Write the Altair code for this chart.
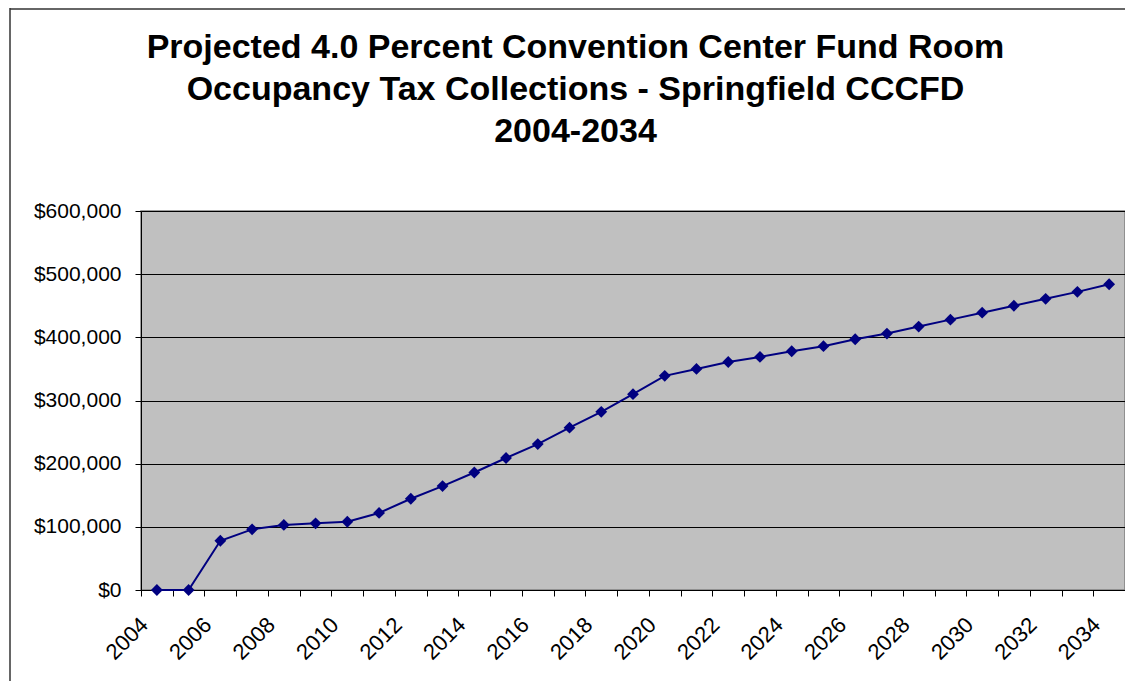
import altair as alt
import pandas as pd

# ---- data ----
years = list(range(2004, 2035))
collections = [0, 0, 78000, 96000, 103000, 105500, 108000, 122000, 144500, 164500,
               186000, 209000, 231000, 257000, 282000, 310000, 339000, 350000, 361000, 369000,
               378000, 386000, 397000, 406000, 417000, 428000, 439000, 450000, 461000, 472000,
               484000]
title_lines = ["Projected 4.0 Percent Convention Center Fund Room",
               "Occupancy Tax Collections - Springfield CCCFD",
               "2004-2034"]
y_ticks = [0, 100000, 200000, 300000, 400000, 500000, 600000]
# category boundaries (Excel-style ticks between categories)
x_boundaries = [y - 0.5 for y in years] + [years[-1] + 0.5]

W, H = 984, 379
PAD_L, PAD_T, PAD_R, PAD_B = 133, 203, 0, 91
FONT = "Liberation Sans"

df = pd.DataFrame({"year": years, "value": collections})

xscale = alt.Scale(domain=[years[0] - 0.5, years[-1] + 0.5], nice=False, zero=False)
yscale = alt.Scale(domain=[y_ticks[0], y_ticks[-1]], nice=False)

xaxis = alt.Axis(
    values=x_boundaries,
    labelExpr="(datum.value + 0.5) % 2 == 0 ? format(datum.value + 0.5, 'd') : ''",
    labelAngle=-45, labelAlign="right", labelBaseline="middle",
    labelOffset=3, labelPadding=25, labelFlush=False, labelOverlap=False,
    labelFont=FONT, labelFontSize=22, labelColor="black",
    tickSize=6, tickColor="black", domainColor="black", domainWidth=1,
    grid=False, title=None,
)
yaxis = alt.Axis(
    values=y_ticks, format="$,.0f",
    labelFont=FONT, labelFontSize=21, labelColor="black", labelPadding=14,
    tickSize=6, tickColor="black", domainColor="black",
    grid=True, gridColor="black", gridWidth=1, gridOpacity=1,
    title=None,
)

line = alt.Chart(df).mark_line(
    color="#000080", strokeWidth=2,
    point=alt.OverlayMarkDef(shape="diamond", size=140, filled=True,
                             color="#000080", opacity=1),
).encode(
    x=alt.X("year:Q", scale=xscale, axis=xaxis),
    y=alt.Y("value:Q", scale=yscale, axis=yaxis),
)

one_row = alt.Data(values=[{"k": 1}])
left_edge = alt.Chart(one_row).mark_rule(color="#333333", strokeWidth=1.5).encode(
    x=alt.value(-131), y=alt.value(-203), y2=alt.value(H + PAD_B)
)
top_edge = alt.Chart(one_row).mark_rule(color="#333333", strokeWidth=1.5).encode(
    x=alt.value(-131), x2=alt.value(W + PAD_R), y=alt.value(-202)
)

title_text = alt.Chart(alt.Data(values=[{"t": "\n".join(title_lines)}])).mark_text(
    font=FONT, fontSize=34, fontWeight="bold", color="black",
    align="center", baseline="alphabetic", lineBreak="\n", lineHeight=42,
).encode(
    text="t:N", x=alt.value(434.5), y=alt.value(-153)
)

chart = alt.layer(line, left_edge, top_edge, title_text).properties(
    width=W, height=H,
    autosize=alt.AutoSizeParams(type="none"),
    padding={"left": PAD_L, "top": PAD_T, "right": PAD_R, "bottom": PAD_B},
    background="white",
).configure_view(
    fill="#C0C0C0", stroke="#808080", strokeWidth=1.5
)

chart.save("out.html", embed_options={"renderer": "svg", "actions": False})
